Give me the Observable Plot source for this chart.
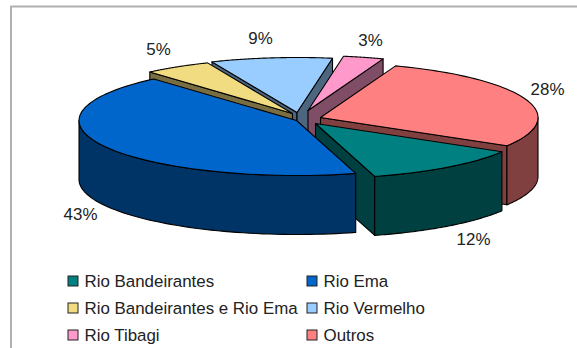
<!DOCTYPE html>
<html>
<head>
<meta charset="utf-8">
<script src="https://cdn.jsdelivr.net/npm/d3@7"></script>
<script src="https://cdn.jsdelivr.net/npm/@observablehq/plot@0.6"></script>
<style>
  html, body { margin: 0; padding: 0; background: #fff; }
  svg { display: block; }
</style>
</head>
<body>
<script>
// Share of each river, clockwise from the first slice
const rivers = ["Rio Bandeirantes", "Rio Ema", "Rio Bandeirantes e Rio Ema", "Rio Vermelho", "Rio Tibagi", "Outros"];
const shares = [12, 43, 5, 9, 3, 28];
const topColors = ["#008080", "#0066CC", "#F2DC82", "#99CCFF", "#FF99CC", "#FF8080"];
const sideColors = ["#004040", "#003366", "#796E41", "#4D6680", "#804D66", "#804040"];

// Where each wedge's tip sits after being pulled out of the pie
const tipX = [315, 296, 292, 296.5, 307.5, 320];
const tipY = [123, 120, 113, 112, 110, 117];
// Percent label anchors
const labelX = [473, 80, 158, 260, 370, 547];
const labelY = [239, 214, 49, 38, 40, 89];
// Painting order: wedges further back come first
const paintOrder = [3, 4, 2, 5, 0, 1];

const W = 577, H = 348;
const rx = 217.5, ry = 55, depth = 59;
const firstAngle = 121;
const rad = d => d * Math.PI / 180;

const total = d3.sum(shares);
let a = firstAngle;
const wedges = shares.map((v, i) => {
  const start = a;
  a += v / total * 360;
  return {i, start, end: a, cx: tipX[i], cy: tipY[i]};
});

const rim = (w, t) => [w.cx + rx * Math.sin(rad(t)), w.cy - ry * Math.cos(rad(t))];
const arcPoints = (w, from, to) => d3.range(0, 61).map(k => rim(w, from + (to - from) * k / 60));

// Polygons are kept as rows of {id, fill, x, y}
const polys = [];
let pid = 0;
function addPoly(points, fill) {
  const id = pid++;
  for (const [x, y] of [...points, points[0]]) polys.push({id, fill, x, y});
}
for (const i of paintOrder) {
  const w = wedges[i];
  const tip = [w.cx, w.cy];
  const down = ([x, y]) => [x, y + depth];
  // A radial wall shows when its outward side faces downward on screen
  for (const [t, sign] of [[w.start, -1], [w.end, 1]]) {
    const p = rim(w, t);
    if (sign * (p[0] - tip[0]) > 0) addPoly([tip, p, down(p), down(tip)], sideColors[i]);
  }
  // The outer wall shows on the near half of the ellipse, in either turn of the circle
  for (const turn of [0, 360]) {
    const lo = Math.max(w.start, 90 + turn), hi = Math.min(w.end, 270 + turn);
    if (hi > lo) {
      const edge = arcPoints(w, lo, hi);
      addPoly([...edge, ...edge.slice().reverse().map(down)], sideColors[i]);
    }
  }
  addPoly([tip, ...arcPoints(w, w.start, w.end)], topColors[i]);
}

const pctLabels = shares.map((v, i) => ({t: `${v}%`, x: labelX[i], y: labelY[i]}));

// Legend laid out in two columns and three rows
const legend = rivers.map((name, i) => ({
  name,
  fill: topColors[i],
  x: [68, 307][i % 2],
  y: [281, 308, 335][Math.floor(i / 2)]
}));

const frame = [
  {g: 0, x: 10.5, y: 348}, {g: 0, x: 10.5, y: 6}, {g: 0, x: 577, y: 6}
];

const chart = Plot.plot({
  width: W,
  height: H,
  margin: 0,
  style: {background: "#fff", fontFamily: "'Liberation Sans', Arial, sans-serif"},
  x: {domain: [0, W], range: [0, W], axis: null},
  y: {domain: [0, H], range: [0, H], axis: null},
  marks: [
    Plot.line(frame, {x: "x", y: "y", z: "g", stroke: "#b0b0b0", strokeWidth: 2}),
    Plot.line(polys, {x: "x", y: "y", z: "id", fill: "fill", stroke: "#000", strokeWidth: 1.1, strokeLinejoin: "round", curve: "linear"}),
    Plot.text(pctLabels, {x: "x", y: "y", text: "t", fontSize: 16.9, fill: "#222", textAnchor: "middle"}),
    Plot.rect(legend, {x1: d => d.x, x2: d => d.x + 10, y1: d => d.y - 5, y2: d => d.y + 5, fill: "fill", stroke: "#222", strokeWidth: 1}),
    Plot.text(legend, {x: d => d.x + 16, y: "y", text: "name", fontSize: 16.9, fill: "#222", textAnchor: "start"})
  ]
});
document.body.appendChild(chart);
</script>
</body>
</html>
